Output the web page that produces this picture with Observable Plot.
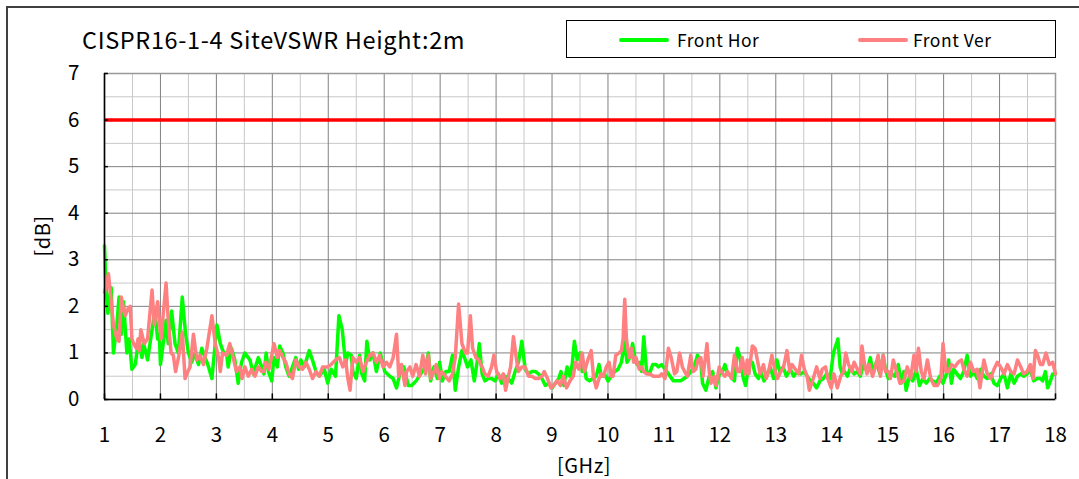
<!DOCTYPE html>
<html><head><meta charset="utf-8">
<script src="https://cdn.jsdelivr.net/npm/d3@7"></script>
<script src="https://cdn.jsdelivr.net/npm/@observablehq/plot@0.6"></script>
<style>
body{margin:0;background:#fff;}
#wrap{position:relative;width:1079px;height:479px;overflow:hidden;font-family:"Noto Sans CJK JP","Noto Sans",sans-serif;color:#000;}
#outer{position:absolute;left:6px;top:6px;width:1200px;height:600px;border-left:2px solid #404040;border-top:2px solid #404040;}
#chart{position:absolute;left:0;top:0;}
.t{position:absolute;white-space:nowrap;}
#legend{position:absolute;left:566px;top:20px;width:488px;height:36px;border:1px solid #000;background:#fff;}
.sw{position:absolute;height:4px;border-radius:2px;}
</style></head>
<body><div id="wrap">
<div id="outer"></div>
<div id="chart"></div>
<div class="t" id="title" style="left:82px;top:28px;font-size:23.5px;line-height:1;letter-spacing:0.65px;">CISPR16-1-4 SiteVSWR Height:2m</div>
<div id="legend"></div>
<div class="t" id="xlab" style="left:584px;top:450px;font-size:20px;letter-spacing:0.5px;transform:translateX(-50%);">[GHz]</div>
<div class="t" id="ylab" style="left:41px;top:236px;font-size:20px;letter-spacing:0.5px;transform:translate(-50%,-50%) rotate(-90deg);">[dB]</div>
</div>
<script>
const title = "CISPR16-1-4 SiteVSWR Height:2m";
const seriesNames = ["Front Hor", "Front Ver"];
const seriesColors = ["#00ff00", "#ff8080"];
const limitDb = 6;
const xTicks = [1,2,3,4,5,6,7,8,9,10,11,12,13,14,15,16,17,18];
const yTicks = [0,1,2,3,4,5,6,7];
const xMinor = [1.5,2.5,3.5,4.5,5.5,6.5,7.5,8.5,9.5,10.5,11.5,12.5,13.5,14.5,15.5,16.5,17.5];
const yMinor = [0.5,1.5,2.5,3.5,4.5,5.5,6.5];

// [GHz, dB]
const frontHor = [
[1.00,3.3],[1.02,2.6],[1.06,1.85],[1.12,2.4],[1.16,1.0],[1.22,1.6],[1.26,2.2],[1.30,1.4],[1.34,2.1],[1.40,1.0],
[1.44,1.3],[1.49,0.65],[1.55,0.75],[1.61,1.3],[1.67,0.9],[1.70,1.2],[1.77,0.85],[1.85,1.5],[1.90,1.9],[1.95,1.3],
[1.98,1.4],[2.00,0.75],[2.05,1.2],[2.10,1.7],[2.14,1.2],[2.20,1.9],[2.26,1.2],[2.32,1.0],[2.39,2.2],[2.45,1.4],
[2.50,1.0],[2.56,0.8],[2.62,1.0],[2.68,0.75],[2.74,1.1],[2.80,0.9],[2.86,0.7],[2.92,0.45],[3.01,1.6],[3.07,1.2],
[3.13,1.0],[3.18,1.0],[3.21,0.7],[3.27,1.1],[3.33,0.85],[3.39,0.35],[3.45,0.8],[3.51,1.0],[3.60,0.85],[3.66,0.55],
[3.75,0.9],[3.81,0.7],[3.85,0.55],[3.89,1.0],[3.93,0.6],[3.99,0.4],[4.03,0.9],[4.09,0.7],[4.13,1.15],[4.19,1.0],
[4.24,0.7],[4.30,0.5],[4.36,0.7],[4.42,0.9],[4.47,0.65],[4.51,0.85],[4.57,0.7],[4.66,1.05],[4.73,0.8],[4.78,0.6],
[4.84,0.5],[4.93,0.65],[4.99,0.35],[5.05,0.65],[5.13,0.5],[5.19,1.8],[5.25,1.5],[5.31,0.75],[5.35,1.0],[5.41,0.95],
[5.44,0.6],[5.50,0.45],[5.56,0.95],[5.60,0.55],[5.65,0.4],[5.69,1.25],[5.74,0.85],[5.80,1.0],[5.86,0.6],[5.93,1.0],
[6.01,0.6],[6.10,0.5],[6.16,0.45],[6.22,0.25],[6.28,0.55],[6.35,0.7],[6.43,0.3],[6.49,0.3],[6.57,0.4],[6.68,0.6],
[6.74,0.7],[6.79,1.0],[6.83,0.4],[6.89,0.7],[6.95,0.45],[6.99,0.8],[7.04,0.4],[7.10,0.6],[7.16,0.6],[7.22,0.95],
[7.27,0.2],[7.33,0.7],[7.39,1.05],[7.45,0.85],[7.49,0.7],[7.55,0.85],[7.61,0.4],[7.66,0.8],[7.70,1.2],[7.75,0.55],
[7.80,0.4],[7.86,0.45],[7.92,0.45],[7.98,0.4],[8.04,0.55],[8.10,0.35],[8.16,0.5],[8.22,0.45],[8.28,0.35],[8.34,0.6],
[8.40,0.8],[8.46,1.25],[8.52,0.65],[8.58,0.55],[8.64,0.6],[8.70,0.6],[8.76,0.55],[8.82,0.45],[8.88,0.3],[8.94,0.35],
[9.00,0.25],[9.06,0.35],[9.12,0.45],[9.16,0.6],[9.21,0.3],[9.27,0.7],[9.32,0.5],[9.36,0.75],[9.40,1.25],[9.45,0.85],
[9.50,1.0],[9.54,0.6],[9.58,0.7],[9.61,0.45],[9.67,0.4],[9.73,0.45],[9.79,0.5],[9.84,0.75],[9.88,0.5],[9.94,0.55],
[10.00,0.4],[10.06,0.5],[10.12,0.6],[10.18,0.65],[10.24,0.8],[10.30,1.25],[10.34,0.8],[10.39,0.9],[10.44,1.2],[10.48,0.9],
[10.52,0.75],[10.57,0.8],[10.60,0.6],[10.64,1.35],[10.69,0.6],[10.74,0.55],[10.80,0.75],[10.86,0.75],[10.90,0.7],[10.96,0.75],
[11.02,0.65],[11.08,0.55],[11.17,0.4],[11.23,0.4],[11.30,0.4],[11.36,0.45],[11.42,0.5],[11.48,0.6],[11.54,0.7],[11.60,0.95],
[11.66,0.8],[11.69,0.35],[11.75,0.2],[11.81,0.5],[11.87,0.6],[11.93,0.25],[11.99,0.55],[12.05,0.6],[12.09,0.75],[12.14,0.55],
[12.20,0.5],[12.26,0.4],[12.31,1.1],[12.35,0.95],[12.42,0.45],[12.46,0.3],[12.52,0.75],[12.58,0.8],[12.63,0.55],[12.69,0.45],
[12.73,0.6],[12.79,0.4],[12.84,0.5],[12.90,0.7],[12.96,0.45],[13.02,0.85],[13.07,0.6],[13.13,0.7],[13.19,0.5],[13.26,0.65],
[13.32,0.5],[13.38,0.6],[13.45,0.55],[13.51,0.6],[13.56,0.5],[13.62,0.4],[13.67,0.35],[13.73,0.25],[13.79,0.4],[13.85,0.45],
[13.91,0.55],[13.97,0.45],[14.03,1.0],[14.07,1.15],[14.11,1.3],[14.15,0.7],[14.19,0.55],[14.23,0.6],[14.28,0.5],[14.34,0.7],
[14.40,0.55],[14.46,0.6],[14.51,0.5],[14.57,0.75],[14.63,0.6],[14.69,0.9],[14.73,0.6],[14.80,0.8],[14.86,0.55],[14.92,0.95],
[14.96,0.65],[15.01,0.45],[15.07,0.55],[15.13,0.5],[15.19,0.75],[15.24,0.35],[15.29,0.6],[15.33,0.2],[15.39,0.5],[15.45,0.4],
[15.51,0.65],[15.57,0.3],[15.63,0.45],[15.69,0.35],[15.75,0.45],[15.81,0.4],[15.87,0.35],[15.93,0.5],[15.99,0.35],[16.05,0.55],
[16.09,0.85],[16.14,0.35],[16.18,0.65],[16.24,0.55],[16.30,0.45],[16.36,0.6],[16.42,0.95],[16.48,0.5],[16.54,0.6],[16.60,0.45],
[16.66,0.65],[16.72,0.5],[16.78,0.45],[16.84,0.55],[16.90,0.35],[16.96,0.3],[17.02,0.45],[17.08,0.55],[17.14,0.25],[17.20,0.55],
[17.26,0.35],[17.32,0.5],[17.38,0.55],[17.43,0.5],[17.49,0.55],[17.55,0.65],[17.61,0.4],[17.67,0.45],[17.73,0.45],[17.77,0.4],
[17.82,0.6],[17.86,0.25],[17.91,0.4],[17.95,0.55],[18.00,0.55]
];

const frontVer = [
[1.00,2.3],[1.04,2.5],[1.07,2.7],[1.12,2.1],[1.16,1.6],[1.22,1.3],[1.26,1.25],[1.30,2.2],[1.34,1.95],[1.37,1.8],
[1.42,1.95],[1.46,2.0],[1.49,1.3],[1.52,1.2],[1.57,1.1],[1.60,1.3],[1.62,1.05],[1.65,1.5],[1.71,1.2],[1.77,1.3],
[1.85,2.35],[1.89,1.6],[1.95,2.1],[2.01,1.3],[2.10,2.5],[2.14,1.7],[2.19,1.0],[2.23,0.95],[2.27,0.6],[2.33,0.95],
[2.39,1.45],[2.44,0.45],[2.49,0.6],[2.53,0.7],[2.59,1.4],[2.65,0.85],[2.71,0.95],[2.77,0.75],[2.83,1.1],[2.92,1.8],
[2.98,1.2],[3.04,0.9],[3.07,0.6],[3.11,1.0],[3.18,0.95],[3.24,1.2],[3.30,0.9],[3.36,0.6],[3.42,0.7],[3.46,0.45],
[3.51,0.7],[3.57,0.5],[3.63,0.65],[3.69,0.5],[3.75,0.7],[3.81,0.6],[3.85,0.6],[3.88,0.8],[3.94,0.65],[4.03,1.2],
[4.09,0.9],[4.13,1.05],[4.19,0.9],[4.24,0.8],[4.30,0.55],[4.36,0.45],[4.42,0.85],[4.48,0.7],[4.54,0.65],[4.60,0.8],
[4.66,0.65],[4.72,0.45],[4.78,0.6],[4.84,0.5],[4.90,0.7],[4.99,0.7],[5.05,0.75],[5.13,0.85],[5.20,0.9],[5.26,0.7],
[5.31,0.85],[5.35,0.45],[5.39,0.2],[5.44,0.9],[5.50,0.8],[5.56,0.9],[5.62,0.6],[5.68,0.8],[5.74,0.95],[5.80,1.0],
[5.86,0.8],[5.92,0.95],[5.98,0.7],[6.04,0.8],[6.10,0.7],[6.16,0.9],[6.22,1.4],[6.26,0.5],[6.31,0.75],[6.37,0.3],
[6.40,0.6],[6.46,0.7],[6.51,0.5],[6.57,0.75],[6.63,0.5],[6.69,0.95],[6.74,0.55],[6.79,0.95],[6.83,0.45],[6.89,0.6],
[6.93,0.75],[6.98,0.45],[7.03,0.6],[7.09,0.5],[7.16,0.4],[7.22,0.55],[7.27,0.9],[7.33,2.05],[7.39,1.2],[7.45,1.0],
[7.49,1.0],[7.54,1.8],[7.58,1.1],[7.64,0.9],[7.69,0.85],[7.75,0.7],[7.80,0.55],[7.86,0.5],[7.92,0.7],[7.96,0.95],
[8.01,0.6],[8.07,0.45],[8.13,0.55],[8.17,0.2],[8.22,0.5],[8.26,0.7],[8.31,1.35],[8.36,0.9],[8.40,0.6],[8.46,0.7],
[8.52,0.7],[8.58,0.5],[8.64,0.5],[8.70,0.45],[8.76,0.45],[8.82,0.5],[8.86,0.6],[8.92,0.45],[8.98,0.25],[9.03,0.3],
[9.09,0.4],[9.15,0.3],[9.20,0.5],[9.26,0.25],[9.32,0.4],[9.38,0.5],[9.42,0.8],[9.48,0.65],[9.54,1.0],[9.58,0.6],
[9.64,0.85],[9.70,1.05],[9.74,0.5],[9.79,0.25],[9.84,0.45],[9.88,0.55],[9.92,0.5],[9.97,0.7],[10.02,0.8],[10.06,0.5],
[10.09,0.5],[10.14,0.95],[10.20,1.0],[10.24,1.05],[10.27,1.3],[10.30,2.15],[10.33,1.3],[10.38,0.9],[10.42,1.1],[10.46,0.8],
[10.50,0.9],[10.56,0.65],[10.60,0.7],[10.64,0.6],[10.69,0.55],[10.75,0.55],[10.81,0.5],[10.86,0.5],[10.92,0.5],[10.96,0.55],
[11.02,0.45],[11.08,1.1],[11.13,0.9],[11.19,0.55],[11.23,0.6],[11.28,1.0],[11.33,0.7],[11.37,0.6],[11.42,0.5],[11.48,0.95],
[11.52,0.6],[11.57,0.65],[11.61,0.85],[11.66,0.9],[11.70,0.5],[11.77,1.2],[11.81,0.6],[11.84,0.35],[11.90,0.5],[11.93,0.3],
[11.99,0.7],[12.05,0.55],[12.09,0.5],[12.14,0.6],[12.21,0.45],[12.26,0.95],[12.32,0.6],[12.36,0.6],[12.40,0.9],[12.45,0.55],
[12.49,0.85],[12.52,0.55],[12.58,1.15],[12.63,1.1],[12.67,0.85],[12.72,0.55],[12.78,0.75],[12.83,0.45],[12.87,0.6],[12.93,0.95],
[12.99,0.6],[13.03,0.45],[13.09,0.6],[13.14,0.7],[13.20,1.05],[13.25,0.6],[13.29,0.75],[13.35,0.65],[13.41,0.55],[13.46,0.95],
[13.51,0.65],[13.56,0.5],[13.60,0.2],[13.67,0.45],[13.73,0.7],[13.79,0.45],[13.83,0.65],[13.89,0.7],[13.93,0.45],[13.99,0.25],
[14.04,0.55],[14.10,0.25],[14.16,0.5],[14.21,0.6],[14.25,1.0],[14.30,0.75],[14.36,0.6],[14.40,0.8],[14.46,0.65],[14.51,0.55],
[14.54,1.15],[14.58,0.8],[14.63,0.55],[14.67,0.75],[14.73,0.5],[14.78,0.7],[14.83,0.95],[14.87,0.5],[14.92,0.95],[14.96,0.6],
[15.01,0.6],[15.05,0.45],[15.10,0.85],[15.16,0.6],[15.22,0.35],[15.29,0.4],[15.35,0.7],[15.41,0.45],[15.47,0.95],[15.51,0.6],
[15.55,1.1],[15.60,0.6],[15.65,0.45],[15.71,0.85],[15.77,0.45],[15.83,0.3],[15.89,0.3],[15.95,0.45],[15.99,1.2],[16.04,0.6],
[16.09,0.6],[16.14,0.75],[16.20,0.7],[16.26,0.8],[16.32,0.85],[16.36,0.65],[16.42,0.5],[16.48,0.8],[16.54,0.6],[16.60,0.65],
[16.65,0.25],[16.72,0.85],[16.78,0.55],[16.84,0.45],[16.90,0.65],[16.96,0.8],[17.02,0.7],[17.08,0.55],[17.14,0.75],[17.20,0.6],
[17.26,0.55],[17.32,0.85],[17.38,0.7],[17.43,0.55],[17.49,0.6],[17.55,0.75],[17.60,0.45],[17.64,1.05],[17.68,0.95],[17.73,0.75],
[17.77,0.75],[17.83,1.0],[17.89,0.75],[17.95,0.8],[18.00,0.55]
];

// legend
const lg = document.getElementById("legend");
const legendItems = [{x: 52, tx: 110}, {x: 291, tx: 346}];
seriesNames.forEach((n, i) => {
  const s = document.createElement("div");
  s.className = "sw";
  s.style.cssText = `left:${legendItems[i].x}px;top:17px;width:50px;background:${seriesColors[i]};`;
  lg.appendChild(s);
  const t = document.createElement("div");
  t.className = "t";
  t.style.cssText = `left:${legendItems[i].tx}px;top:6px;font-size:17.5px;letter-spacing:0.5px;`;
  t.textContent = n;
  lg.appendChild(t);
});

const toRows = (pts) => pts.map(([f, v]) => ({f, v}));

const chart = Plot.plot({
  width: 1079,
  height: 479,
  marginLeft: 104,
  marginRight: 24,
  marginTop: 73,
  marginBottom: 80,
  style: {background: "transparent", fontSize: "20.5px", fontFamily: "'Noto Sans CJK JP','Noto Sans',sans-serif", color: "#000"},
  x: {domain: [1, 18], ticks: xTicks, tickFormat: d => String(d), tickSize: 0, tickPadding: 28, label: null},
  y: {domain: [0, 7], ticks: yTicks, tickFormat: d => String(d), tickSize: 0, tickPadding: 25, label: null},
  marks: [
    Plot.ruleX(xMinor, {stroke: "#c8c8c8", strokeWidth: 1}),
    Plot.ruleY(yMinor, {stroke: "#c8c8c8", strokeWidth: 1}),
    Plot.ruleX(xTicks.slice(1, -1), {stroke: "#808080", strokeWidth: 1}),
    Plot.ruleY(yTicks.slice(1, -1), {stroke: "#808080", strokeWidth: 1}),
    Plot.frame({stroke: "#999999", strokeWidth: 1.5}),
    Plot.ruleY([limitDb], {stroke: "#ff0000", strokeWidth: 3.5}),
    Plot.line(toRows(frontHor), {x: "f", y: "v", stroke: seriesColors[0], strokeWidth: 3.5, strokeLinejoin: "round"}),
    Plot.line(toRows(frontVer), {x: "f", y: "v", stroke: seriesColors[1], strokeWidth: 3.5, strokeLinejoin: "round"}),
    Plot.ruleX([1], {stroke: "#000", strokeWidth: 1.5}),
    Plot.ruleY([0], {stroke: "#000", strokeWidth: 1.5}),
    Plot.ruleX(xTicks, {y1: 0, y2: 0.12, stroke: "#000", strokeWidth: 1.5}),
    Plot.ruleY(yTicks, {x1: 1, x2: 1.07, stroke: "#000", strokeWidth: 1.5})
  ]
});
document.getElementById("chart").appendChild(chart);
</script>
</body></html>
